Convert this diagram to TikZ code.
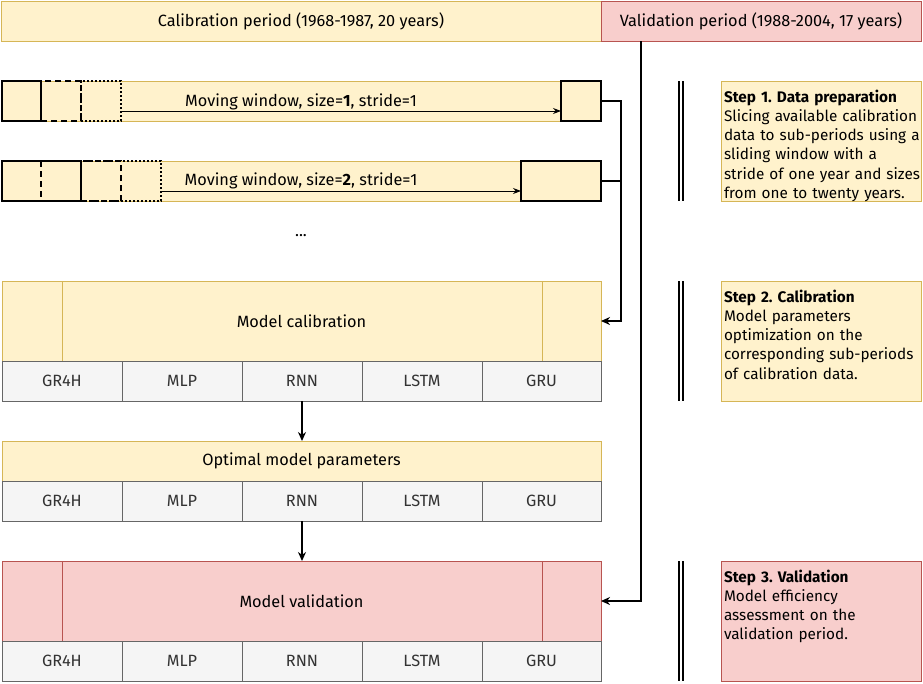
\documentclass[tikz,border=0pt]{standalone}
\usepackage{fontspec}
\setmainfont{Fira Sans}
\usetikzlibrary{arrows.meta,calc}
\definecolor{yfill}{HTML}{FFF2CC}
\definecolor{yline}{HTML}{D6B656}
\definecolor{pfill}{HTML}{F8CECC}
\definecolor{pline}{HTML}{B85450}
\definecolor{gfill}{HTML}{F5F5F5}
\definecolor{gline}{HTML}{666666}
\definecolor{gtext}{HTML}{333333}
\frenchspacing
\tikzset{
  base/.style={inner sep=0pt, outer sep=0pt, anchor=north west, font=\fontsize{16.3}{19.3}\selectfont},
  ybox/.style={base, draw=yline, fill=yfill, line width=1pt},
  pbox/.style={base, draw=pline, fill=pfill, line width=1pt},
  gbox/.style={base, draw=gline, fill=gfill, line width=1pt, minimum width=120pt, minimum height=40pt, text=gtext},
  win/.style={base, draw=black, line width=2pt, minimum height=40pt},
  windash/.style={dash pattern=on 6pt off 4pt},
  windot/.style={dash pattern=on 2pt off 2pt},
  conn/.style={line width=1.5pt, -{Stealth[length=9pt,width=8pt]}},
  thinarrow/.style={line width=1pt, -{Stealth[length=8pt,width=6pt]}},
  dbl/.style={line width=1.6pt},
  steptext/.style={base, anchor=base west, text width=198pt, align=left, font=\fontsize{15.3}{19.3}\selectfont},
}
\begin{document}
\begin{tikzpicture}[x=1pt,y=-1pt]
\useasboundingbox (0,0) rectangle (923,683);

% header
\node[ybox, minimum width=600pt, minimum height=40pt] (cal) at (1,1) {Calibration period (1968-1987, 20 years)};
\node[pbox, minimum width=320pt, minimum height=40pt] (val) at (601,1) {Validation period (1988-2004, 17 years)};

% row 1
\node[ybox, minimum width=599pt, minimum height=40pt] (bar1) at (2,81) {};
\node[win, minimum width=39pt] (w1a) at (2,81) {};
\node[win, windash, minimum width=40pt] (w1b) at (41,81) {};
\node[win, windot, minimum width=40pt] (w1c) at (81,81) {};
\node[win, fill=yfill, minimum width=40pt] (f1) at (561,81) {};
\node[base, anchor=center] (t1) at (301,102) {Moving window, size=\textbf{1}, stride=1};
\coordinate (a1s) at (121,111);
\coordinate (a1e) at (561,111);
\draw[thinarrow] (a1s) -- (a1e);

% row 2
\node[ybox, minimum width=599pt, minimum height=40pt] (bar2) at (2,161) {};
\node[win, minimum width=79pt] (w2a) at (2,161) {};
\node[win, windash, minimum width=80pt] (w2b) at (41,161) {};
\node[win, windot, minimum width=80pt] (w2c) at (81,161) {};
\node[win, fill=yfill, minimum width=80pt] (f2) at (521,161) {};
\node[base, anchor=center] (t2) at (301,181) {Moving window, size=\textbf{2}, stride=1};
\coordinate (a2s) at (161,191);
\coordinate (a2e) at (521,191);
\draw[thinarrow] (a2s) -- (a2e);

\node[base, anchor=center] (dots) at (301,236) {...};

% model calibration
\node[ybox, minimum width=599pt, minimum height=80pt] (mcal) at (2,281) {Model calibration};
\draw[yline, line width=1pt] ($(mcal.north west)+(60,0)$) -- ($(mcal.south west)+(60,0)$);
\draw[yline, line width=1pt] ($(mcal.north east)+(-59,0)$) -- ($(mcal.south east)+(-59,0)$);
\node[gbox] (g11) at (2,361) {GR4H};
\node[gbox] (g12) at (122,361) {MLP};
\node[gbox] (g13) at (242,361) {RNN};
\node[gbox] (g14) at (362,361) {LSTM};
\node[gbox, minimum width=119pt] (g15) at (482,361) {GRU};

% optimal parameters
\node[ybox, minimum width=599pt, minimum height=40pt] (opt) at (2,441) {Optimal model parameters};
\node[gbox] (g21) at (2,481) {GR4H};
\node[gbox] (g22) at (122,481) {MLP};
\node[gbox] (g23) at (242,481) {RNN};
\node[gbox] (g24) at (362,481) {LSTM};
\node[gbox, minimum width=119pt] (g25) at (482,481) {GRU};

% model validation
\node[pbox, minimum width=599pt, minimum height=80pt] (mval) at (2,561) {Model validation};
\draw[pline, line width=1pt] ($(mval.north west)+(60,0)$) -- ($(mval.south west)+(60,0)$);
\draw[pline, line width=1pt] ($(mval.north east)+(-59,0)$) -- ($(mval.south east)+(-59,0)$);
\node[gbox] (g31) at (2,641) {GR4H};
\node[gbox] (g32) at (122,641) {MLP};
\node[gbox] (g33) at (242,641) {RNN};
\node[gbox] (g34) at (362,641) {LSTM};
\node[gbox, minimum width=119pt] (g35) at (482,641) {GRU};

% connectors
\draw[conn] (f1.east) -- ++(20,0) |- (mcal.east);
\draw[line width=1.5pt] (f2.east) -- ++(20,0);
\draw[conn] (g13.south) -- (g13.south |- opt.north);
\draw[conn] (g23.south) -- (g23.south |- mval.north);
\draw[conn] (val.south west) ++(40,0) |- (mval.east);

% double separators
\foreach \ya/\yb in {81/201, 281/401, 561/681} {
  \draw[dbl] (679,\ya) -- (679,\yb);
  \draw[dbl] (683,\ya) -- (683,\yb);
}

% steps
\node[ybox, minimum width=200pt, minimum height=120pt] (s1) at (721,81) {};
\node[steptext] (s1t) at (724,102) {\textbf{Step 1. Data preparation}\\Slicing available calibration\\data to sub-periods using a\\sliding window with a\\stride of one year and sizes\\from one to twenty years.};
\node[ybox, minimum width=200pt, minimum height=120pt] (s2) at (721,281) {};
\node[steptext] (s2t) at (724,302) {\textbf{Step 2. Calibration}\\Model parameters\\optimization on the\\corresponding sub-periods\\of calibration data.};
\node[pbox, minimum width=200pt, minimum height=120pt] (s3) at (721,561) {};
\node[steptext] (s3t) at (724,582) {\textbf{Step 3. Validation}\\Model efficiency\\assessment on the\\validation period.};
\end{tikzpicture}
\end{document}
